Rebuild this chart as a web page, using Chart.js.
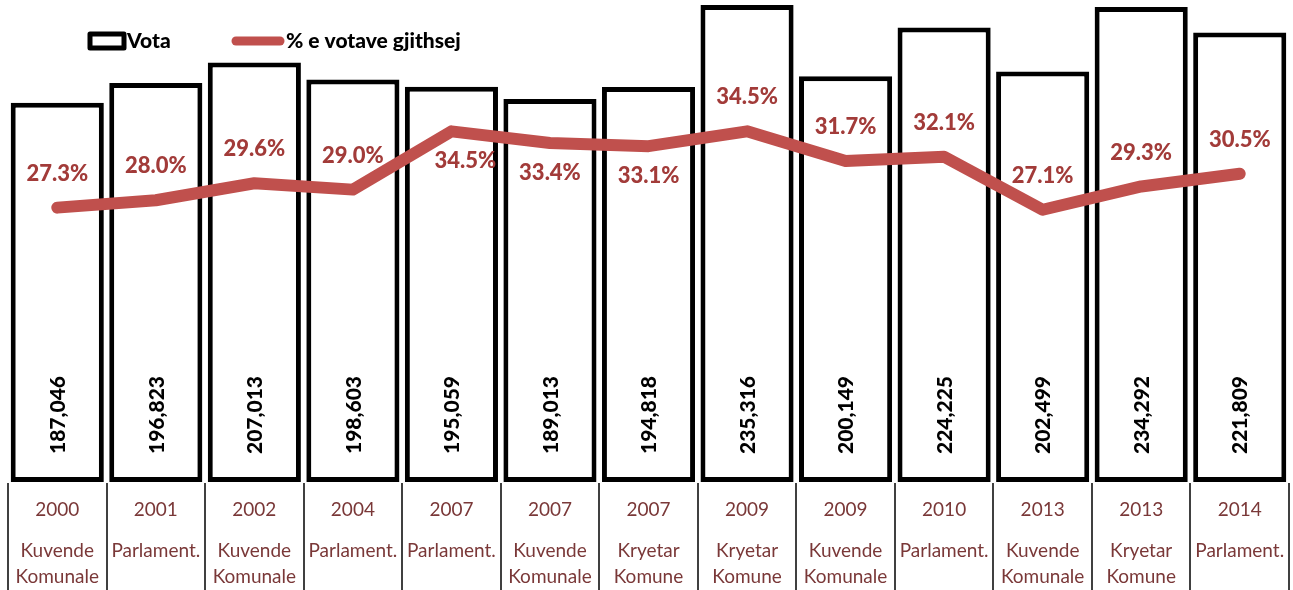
<!DOCTYPE html>
<html>
<head>
<meta charset="utf-8">
<script src="https://cdn.jsdelivr.net/npm/chart.js@4/dist/chart.umd.min.js"></script>
<style>
  html, body { margin: 0; padding: 0; background: #fff; }
  #wrap { width: 1293px; height: 590px; }
</style>
</head>
<body>
<div id="wrap"><canvas id="grafico"></canvas></div>
<script>
const vitet = ["2000", "2001", "2002", "2004", "2007", "2007", "2007", "2009", "2009", "2010", "2013", "2013", "2014"];
const llojet = [
  ["Kuvende", "Komunale"], ["Parlament."], ["Kuvende", "Komunale"], ["Parlament."], ["Parlament."],
  ["Kuvende", "Komunale"], ["Kryetar", "Komune"], ["Kryetar", "Komune"], ["Kuvende", "Komunale"],
  ["Parlament."], ["Kuvende", "Komunale"], ["Kryetar", "Komune"], ["Parlament."]
];
const vota = [187046, 196823, 207013, 198603, 195059, 189013, 194818, 235316, 200149, 224225, 202499, 234292, 221809];
const perqindja = [27.3, 28.0, 29.6, 29.0, 34.5, 33.4, 33.1, 34.5, 31.7, 32.1, 27.1, 29.3, 30.5];

const FONT = "Lato, 'Open Sans', sans-serif";
const KUQE = "#C0504D";
const KUQE_TEKST = "#A23B39";
const KAFE = "#7A3838";
const poshte = [4, 5, 6]; // etiketat nen vije

const etiketat = {
  id: "etiketat",
  afterDatasetsDraw(chart) {
    const ctx = chart.ctx;
    const x = chart.scales.x;
    const area = chart.chartArea;
    const w = x.getPixelForValue(1) - x.getPixelForValue(0);
    ctx.save();

    // vlerat e votave (vertikale)
    ctx.fillStyle = "#000";
    ctx.font = "900 21px " + FONT;
    ctx.textAlign = "center";
    ctx.textBaseline = "middle";
    vota.forEach((v, i) => {
      ctx.save();
      ctx.translate(x.getPixelForValue(i) + 1, 415);
      ctx.rotate(-Math.PI / 2);
      ctx.fillText(v.toLocaleString("en-US"), 0, 0);
      ctx.restore();
    });

    // perqindjet
    const meta = chart.getDatasetMeta(1);
    ctx.fillStyle = KUQE_TEKST;
    ctx.font = "900 22px " + FONT;
    perqindja.forEach((p, i) => {
      const pt = meta.data[i];
      const dy = poshte.includes(i) ? 30 : -34;
      const dx = i === 4 ? 14 : 0;
      ctx.fillText(p.toFixed(1) + "%", pt.x + dx, pt.y + dy);
    });

    // boshti x: vija ndarese + tekstet
    ctx.strokeStyle = "#000";
    ctx.lineWidth = 1.5;
    for (let i = 0; i <= vitet.length; i++) {
      const xx = Math.round(x.getPixelForValue(i) - w / 2);
      ctx.beginPath();
      ctx.moveTo(xx, area.bottom + 1);
      ctx.lineTo(xx, 590);
      ctx.stroke();
    }
    ctx.fillStyle = KAFE;
    ctx.font = "19px " + FONT;
    vitet.forEach((vit, i) => {
      const cx = x.getPixelForValue(i);
      ctx.fillText(vit, cx, 510);
      llojet[i].forEach((rr, j) => ctx.fillText(rr, cx, 551 + j * 26));
    });

    // legjenda
    ctx.strokeStyle = "#000";
    ctx.lineWidth = 5;
    ctx.lineJoin = "round";
    ctx.fillStyle = "#fff";
    ctx.fillRect(90, 34, 34, 14);
    ctx.strokeRect(90, 34, 34, 14);
    ctx.fillStyle = "#000";
    ctx.font = "900 21px " + FONT;
    ctx.textAlign = "left";
    ctx.fillText("Vota", 127, 41);
    ctx.strokeStyle = KUQE;
    ctx.lineWidth = 9;
    ctx.lineCap = "round";
    ctx.beginPath();
    ctx.moveTo(236, 41);
    ctx.lineTo(280, 41);
    ctx.stroke();
    ctx.fillText("% e votave gjithsej", 286, 41);
    ctx.restore();
  }
};

new Chart(document.getElementById("grafico"), {
  type: "bar",
  data: {
    labels: vitet,
    datasets: [
      {
        label: "Vota",
        data: vota,
        backgroundColor: "#fff",
        borderColor: "#000",
        borderWidth: 5,
        borderSkipped: false,
        barPercentage: 0.945,
        categoryPercentage: 1,
        yAxisID: "y",
        order: 2
      },
      {
        type: "line",
        label: "% e votave gjithsej",
        data: perqindja,
        borderColor: KUQE,
        backgroundColor: KUQE,
        borderWidth: 12,
        borderCapStyle: "round",
        borderJoinStyle: "round",
        pointRadius: 0,
        tension: 0,
        yAxisID: "y1",
        order: 1
      }
    ]
  },
  options: {
    responsive: true,
    maintainAspectRatio: false,
    animation: false,
    layout: { padding: { left: 8, right: 4, top: 0, bottom: 108 } },
    plugins: { legend: { display: false }, tooltip: { enabled: false } },
    scales: {
      x: { display: false },
      y: { display: false, min: 0, max: 237800 },
      y1: { display: false, position: "right", min: 1.4, max: 46.9 }
    }
  },
  plugins: [etiketat]
});
</script>
</body>
</html>
